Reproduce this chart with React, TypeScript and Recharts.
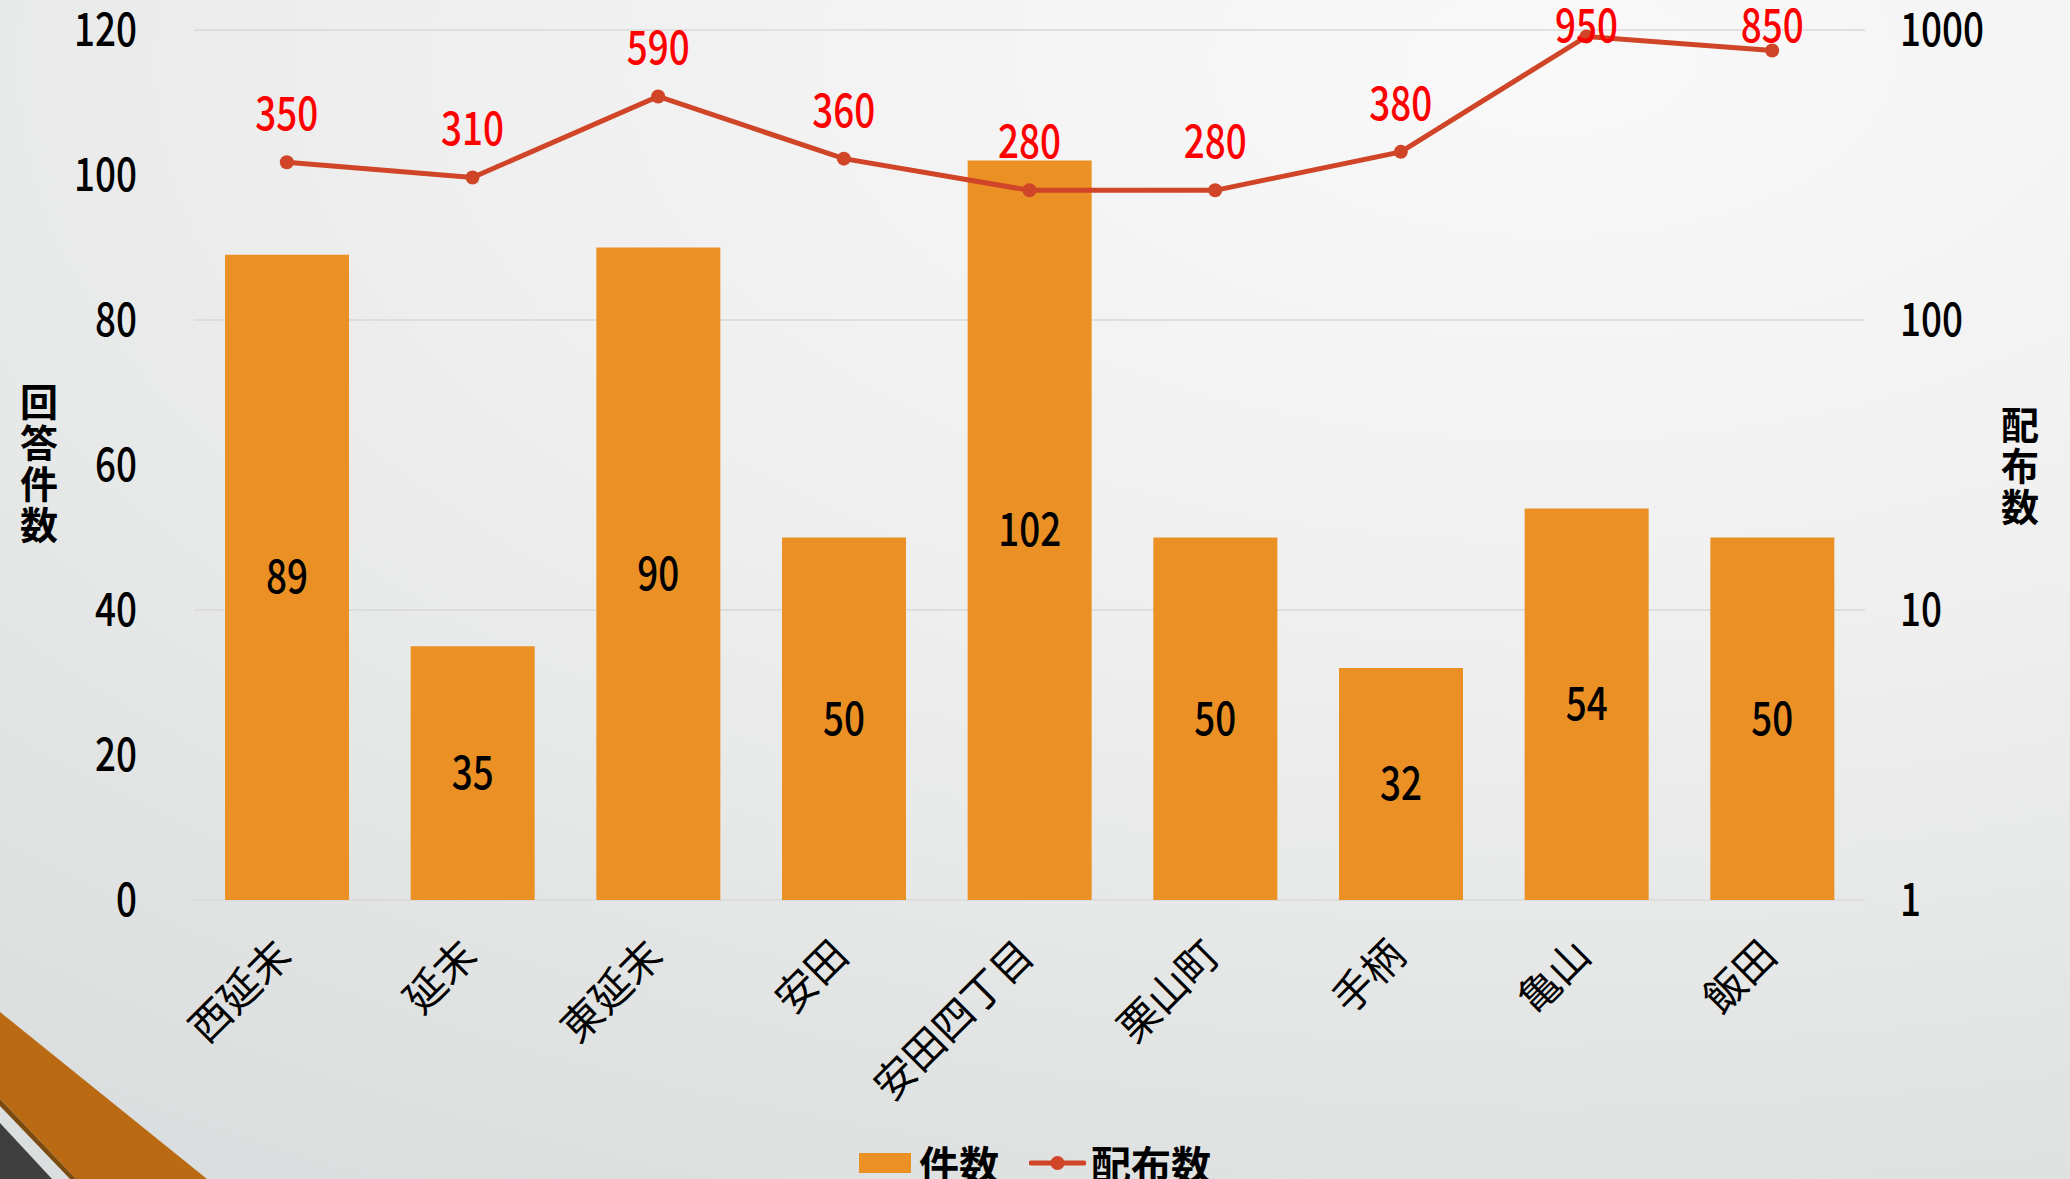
import { ComposedChart, Bar, Line, XAxis, YAxis, CartesianGrid, Legend, LabelList } from "recharts";

const categories = ["西延末", "延末", "東延末", "安田", "安田四丁目", "栗山町", "手柄", "亀山", "飯田"];
const responses = [89, 35, 90, 50, 102, 50, 32, 54, 50];
const distributed = [350, 310, 590, 360, 280, 280, 380, 950, 850];
const leftTicks = [0, 20, 40, 60, 80, 100, 120];
const rightTicks = [1, 10, 100, 1000];

const data = categories.map((name, i) => ({
  name,
  responses: responses[i],
  distributed: distributed[i],
}));

const BAR_COLOR = "#EA9024";
const LINE_COLOR = "#D04527";
const JP_FONT = "'Noto Sans CJK JP', sans-serif";

// condensed digits, like the narrow gothic numerals in the original
const NumText = ({ x, y, anchor, fill, children }: any) => (
  <text
    x={x}
    y={y}
    textAnchor={anchor}
    fill={fill}
    fontSize={46}
    fontWeight={500}
    fontFamily={JP_FONT}
    transform={`translate(${x},0) scale(0.8,1) translate(${-x},0)`}
  >
    {children}
  </text>
);

const LeftTick = ({ x, y, payload }: any) => (
  <NumText x={x} y={y + 16} anchor="end" fill="#000">
    {payload.value}
  </NumText>
);

const RightTick = ({ x, y, payload }: any) => (
  <NumText x={x} y={y + 16} anchor="start" fill="#000">
    {payload.value}
  </NumText>
);

const XTick = ({ x, y, payload }: any) => (
  <g transform={`translate(${x + 7},${y + 56})`}>
    <text textAnchor="end" transform="rotate(-45)" fontSize={41} fill="#000" fontFamily={JP_FONT}>
      {payload.value}
    </text>
  </g>
);

const BarValue = ({ x, y, width, height, value }: any) => (
  <NumText x={x + width / 2} y={y + height / 2 + 16} anchor="middle" fill="#000">
    {value}
  </NumText>
);

// labels that would leave the plot are kept just inside its top edge
const LineValue = ({ x, y, value }: any) => (
  <NumText x={x} y={Math.max(y - 32, 42)} anchor="middle" fill="#FF0000">
    {value}
  </NumText>
);

const VerticalTitle = ({ text, cx, top }: { text: string; cx: number; top: number }) => (
  <text
    x={cx}
    y={top}
    fontSize={38}
    fontWeight={700}
    fill="#000"
    fontFamily={JP_FONT}
    style={{ writingMode: "vertical-rl", letterSpacing: 3 }}
  >
    {text}
  </text>
);

const LegendContent = () => (
  <div
    style={{
      display: "flex",
      justifyContent: "center",
      alignItems: "center",
      height: 56,
      fontFamily: JP_FONT,
      fontWeight: 700,
      fontSize: 40,
      color: "#000",
    }}
  >
    <span style={{ display: "inline-block", width: 52, height: 20, background: BAR_COLOR, marginRight: 8 }} />
    <span style={{ marginRight: 30 }}>件数</span>
    <svg width={57} height={20} style={{ marginRight: 5 }}>
      <line x1={2} y1={10} x2={55} y2={10} stroke={LINE_COLOR} strokeWidth={5} strokeLinecap="round" />
      <circle cx={28.5} cy={10} r={7} fill={LINE_COLOR} />
    </svg>
    <span>配布数</span>
  </div>
);

export default function App() {
  return (
    <div
      style={{
        position: "absolute",
        left: 0,
        top: 0,
        width: 2070,
        height: 1179,
        overflow: "hidden",
        fontFamily: JP_FONT,
        background: "radial-gradient(ellipse 120% 110% at 75% 5%, #f9f9f9 0%, #efefef 45%, #e2e4e4 80%, #dbdede 100%)",
      }}
    >
      <svg width={2070} height={1179} style={{ position: "absolute", left: 0, top: 0 }}>
        <polygon points="0,1012 207,1179 76,1179 0,1099" fill="#B96A12" />
        <polygon points="0,1099 76,1179 70,1179 0,1106" fill="#7A4A0E" />
        <polygon points="0,1123 52,1179 0,1179" fill="#3F3F3F" />
      </svg>
      <div style={{ position: "absolute", left: 0, top: 0 }}>
        <ComposedChart width={2070} height={1179} data={data} margin={{ top: 30, right: 0, left: 0, bottom: 23 }}>
          <CartesianGrid vertical={false} yAxisId="right" stroke="#d9d9d9" strokeWidth={1.5} />
          <XAxis
            dataKey="name"
            height={200}
            interval={0}
            axisLine={false}
            tickLine={false}
            tickSize={0}
            tick={<XTick />}
          />
          <YAxis
            yAxisId="left"
            width={194}
            domain={[0, 120]}
            ticks={leftTicks}
            axisLine={false}
            tickLine={false}
            tickSize={0}
            tickMargin={57}
            tick={<LeftTick />}
            label={{ content: () => <VerticalTitle text="回答件数" cx={39} top={383} /> }}
          />
          <YAxis
            yAxisId="right"
            orientation="right"
            scale="log"
            domain={[1, 1000]}
            ticks={rightTicks}
            width={205}
            axisLine={false}
            tickLine={false}
            tickSize={0}
            tickMargin={35}
            tick={<RightTick />}
            label={{ content: () => <VerticalTitle text="配布数" cx={2020} top={406} /> }}
          />
          <Bar yAxisId="left" dataKey="responses" name="件数" fill={BAR_COLOR} barSize={124} isAnimationActive={false}>
            <LabelList dataKey="responses" content={<BarValue />} />
          </Bar>
          <Line
            yAxisId="right"
            dataKey="distributed"
            name="配布数"
            stroke={LINE_COLOR}
            strokeWidth={5}
            dot={{ r: 7, fill: LINE_COLOR, stroke: LINE_COLOR, strokeWidth: 0 }}
            isAnimationActive={false}
          >
            <LabelList dataKey="distributed" content={<LineValue />} />
          </Line>
          <Legend
            verticalAlign="bottom"
            align="center"
            content={<LegendContent />}
            wrapperStyle={{ top: 1135, bottom: "auto", left: 0, width: 2070, height: 56 }}
          />
        </ComposedChart>
      </div>
    </div>
  );
}
